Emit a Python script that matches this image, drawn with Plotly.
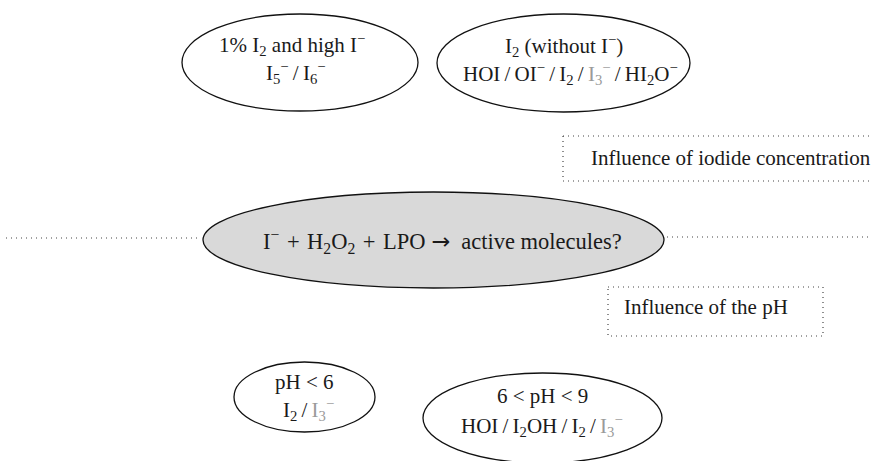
import plotly.graph_objects as go

SP = "\u2009"  # thin space
HS = "\u200a"  # hair space
SL = SP + "/" + SP
PLUS = HS + " + " + HS
MINUS = "<sup>−</sup>"
GRAY = "<span style='color:#9a9a9a'>I<sub>3</sub>" + MINUS + "</span>"
ARROW = "<span style='font-family:DejaVu Sans'>→</span>"

# Diagram content (labels)
node_names = ["high_iodide", "no_iodide", "center", "acidic", "neutral"]
node_lines = [
    ["1% I<sub>2</sub> and high I" + MINUS, "I<sub>5</sub>" + MINUS + SL + "I<sub>6</sub>" + MINUS],
    ["I<sub>2</sub> (without I" + MINUS + ")",
     "HOI" + SL + "OI" + MINUS + SL + "I<sub>2</sub>" + SL + GRAY + SL + "HI<sub>2</sub>O" + MINUS],
    ["I" + MINUS + PLUS + "H<sub>2</sub>O<sub>2</sub>" + PLUS + "LPO " + ARROW
     + "\u00a0\u00a0active molecules?"],
    ["pH < 6", "I<sub>2</sub>" + SL + GRAY],
    ["6 < pH < 9", "HOI" + SL + "I<sub>2</sub>OH" + SL + "I<sub>2</sub>" + SL + GRAY],
]
box_labels = ["Influence of iodide concentration", "Influence of the pH"]

# Layout geometry (page pixels, y downwards)
ellipses = [
    (182, 418, 14, 111),
    (437, 690, 14, 112),
    (203, 664, 192, 288),
    (234, 375, 362, 432),
    (423, 662, 373, 463),
]
line_y = [
    [44, 72],
    [45, 73],
    [241],
    [382, 409],
    [396, 425],
]
line_x = [
    [292, 296],
    [564, 570],
    [442],
    [304, 308],
    [542, 542],
]
sizes = [21, 21, 22.5, 21, 21]
fills = ["white", "white", "#d9d9d9", "white", "white"]

FAMILY = "Liberation Serif, Times New Roman, serif"
DOT = dict(color="#444444", width=1.2, dash="1px,4px")
W, H = 876, 461

fig = go.Figure()
shapes = []
for (x0, x1, y0, y1), fc in zip(ellipses, fills):
    shapes.append(dict(type="circle", xref="x", yref="y", x0=x0, x1=x1, y0=y0, y1=y1,
                       line=dict(color="#111111", width=1.3), fillcolor=fc, layer="below"))

# dotted connectors
shapes.append(dict(type="line", x0=6, x1=201, y0=238, y1=238, line=DOT))
shapes.append(dict(type="line", x0=667, x1=872, y0=237, y1=237, line=DOT))
# iodide box (open on the right)
shapes.append(dict(type="line", x0=563, x1=873, y0=136, y1=136, line=DOT))
shapes.append(dict(type="line", x0=563, x1=873, y0=181, y1=181, line=DOT))
shapes.append(dict(type="line", x0=563, x1=563, y0=136, y1=181, line=DOT))
# pH box
shapes.append(dict(type="rect", x0=608, x1=823, y0=287, y1=336, line=DOT, fillcolor="rgba(0,0,0,0)"))

annotations = []
for lines, ys, xs, fs in zip(node_lines, line_y, line_x, sizes):
    for txt, y, x in zip(lines, ys, xs):
        annotations.append(dict(x=x, y=y, xref="x", yref="y", text=txt, showarrow=False,
                                xanchor="center", yanchor="middle",
                                font=dict(family=FAMILY, size=fs, color="#1a1a1a")))
for txt, x, y in zip(box_labels, [589, 622], [158, 307]):
    annotations.append(dict(x=x, y=y, xref="x", yref="y", text=txt, showarrow=False,
                            xanchor="left", yanchor="middle",
                            font=dict(family=FAMILY, size=21, color="#1a1a1a")))

fig.update_layout(
    width=W, height=H,
    margin=dict(l=0, r=0, t=0, b=0),
    paper_bgcolor="white", plot_bgcolor="white",
    shapes=shapes, annotations=annotations,
    xaxis=dict(range=[0, W], visible=False, fixedrange=True),
    yaxis=dict(range=[H, 0], visible=False, fixedrange=True),
    showlegend=False,
)
fig.write_html("out.html", config={"displayModeBar": False},
               post_script="document.body.style.margin='0';document.body.style.overflow='hidden';")
